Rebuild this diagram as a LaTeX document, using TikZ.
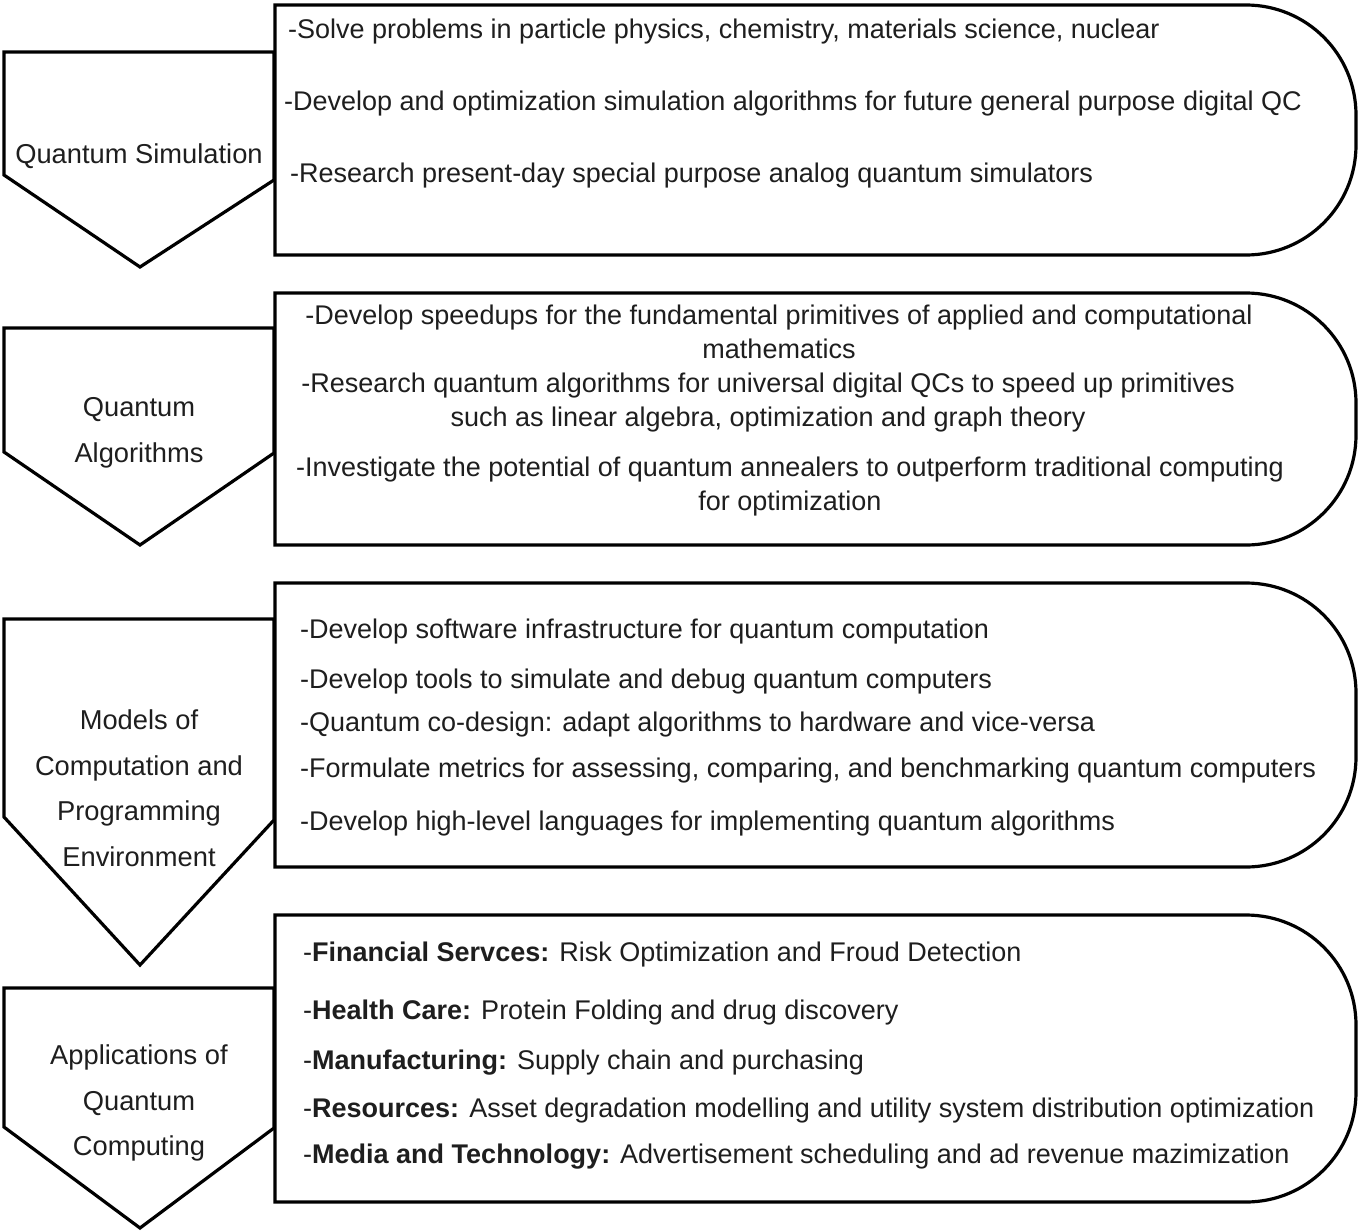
\documentclass[tikz,border=0pt]{standalone}
\usepackage{fontspec}
\setmainfont{Liberation Sans}
\definecolor{txt}{HTML}{1E1E1E}
\begin{document}
\begin{tikzpicture}[x=1pt,y=1pt,
  shp/.style={draw=black,line width=3.2pt,fill=white,line join=miter},
  itm/.style={anchor=west,inner sep=0pt,text=txt,font=\fontsize{27}{34}\selectfont},
  ctr/.style={anchor=center,inner sep=0pt,align=center,text=txt,font=\fontsize{27}{34}\selectfont},
  lbl/.style={anchor=center,inner sep=0pt,align=center,text=txt,font=\fontsize{27.3}{45.5}\selectfont}]
\useasboundingbox (0,0) rectangle (1362,-1231);
\fill[white] (0,0) rectangle (1362,-1231);
% chevrons
\draw[shp] (4,-52) -- (274,-52) -- (274,-180) -- (140,-267) -- (4,-175) -- cycle;
\draw[shp] (4,-328) -- (274,-328) -- (274,-453) -- (140,-545) -- (4,-452) -- cycle;
\draw[shp] (4,-619) -- (274,-619) -- (274,-820) -- (140,-965) -- (4,-817) -- cycle;
\draw[shp] (4,-988) -- (274,-988) -- (274,-1128) -- (140,-1228) -- (4,-1127) -- cycle;
% boxes
\draw[shp] (275,-5) -- (1246,-5) arc[start angle=90,end angle=0,radius=110] -- (1356,-145) arc[start angle=0,end angle=-90,radius=110] -- (275,-255) -- cycle;
\draw[shp] (275,-293) -- (1246,-293) arc[start angle=90,end angle=0,radius=110] -- (1356,-435) arc[start angle=0,end angle=-90,radius=110] -- (275,-545) -- cycle;
\draw[shp] (275,-583) -- (1246,-583) arc[start angle=90,end angle=0,radius=110] -- (1356,-757) arc[start angle=0,end angle=-90,radius=110] -- (275,-867) -- cycle;
\draw[shp] (275,-915) -- (1246,-915) arc[start angle=90,end angle=0,radius=110] -- (1356,-1092) arc[start angle=0,end angle=-90,radius=110] -- (275,-1202) -- cycle;
% chevron labels
\node[lbl] (l1) at (139,-156) {Quantum Simulation};
\node[lbl] (l2) at (139,-433) {Quantum\\Algorithms};
\node[lbl] (l3) at (139,-788) {Models of\\Computation and\\Programming\\Environment};
\node[lbl] (l4) at (139,-1103) {Applications of\\Quantum\\Computing};
% box 1
\node[itm] (a1) at (288,-32) {-Solve problems in particle physics, chemistry, materials science, nuclear};
\node[itm] (a2) at (284,-104) {-Develop and optimization simulation algorithms for future general purpose digital QC};
\node[itm] (a3) at (290,-176) {-Research present-day special purpose analog quantum simulators};
% box 2
\node[ctr] (b1) at (779,-332) {-Develop speedups for the fundamental primitives of applied and computational\\mathematics};
\node[ctr] (b2) at (768,-403) {-Research quantum algorithms for universal digital QCs to speed up primitives\\such as linear algebra, optimization and graph theory};
\node[ctr] (b3) at (790,-487) {-Investigate the potential of quantum annealers to outperform traditional computing\\for optimization};
% box 3
\node[itm] (c1) at (300,-632) {-Develop software infrastructure for quantum computation};
\node[itm] (c2) at (300,-682) {-Develop tools to simulate and debug quantum computers};
\node[itm] (c3) at (300,-725) {-Quantum co-design: adapt algorithms to hardware and vice-versa};
\node[itm] (c4) at (300,-771) {-Formulate metrics for assessing, comparing, and benchmarking quantum computers};
\node[itm] (c5) at (300,-824) {-Develop high-level languages for implementing quantum algorithms};
% box 4
\node[itm] (d1) at (303,-955) {-\textbf{Financial Servces:} Risk Optimization and Froud Detection};
\node[itm] (d2) at (303,-1013) {-\textbf{Health Care:} Protein Folding and drug discovery};
\node[itm] (d3) at (303,-1063) {-\textbf{Manufacturing:} Supply chain and purchasing};
\node[itm] (d4) at (303,-1111) {-\textbf{Resources:} Asset degradation modelling and utility system distribution optimization};
\node[itm] (d5) at (303,-1157) {-\textbf{Media and Technology:} Advertisement scheduling and ad revenue mazimization};
\end{tikzpicture}
\end{document}
